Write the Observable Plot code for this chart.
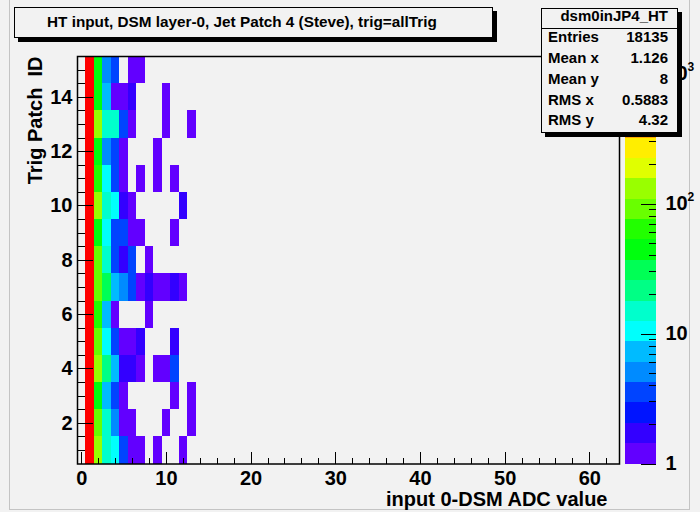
<!DOCTYPE html>
<html><head><meta charset="utf-8">
<script src="https://cdn.jsdelivr.net/npm/d3@7"></script>
<script src="https://cdn.jsdelivr.net/npm/@observablehq/plot@0.6"></script>
<style>
html,body{margin:0;padding:0;background:#f2f2f2;}
#wrap{position:relative;width:700px;height:512px;background:#f2f2f2;overflow:hidden;
  font-family:"Liberation Sans",Arial,Helvetica,sans-serif;font-weight:bold;color:#000;}
#wrap svg{position:absolute;left:0;top:0;}
.box{position:absolute;box-sizing:border-box;border:1.5px solid #000;background:#f2f2f2;box-shadow:4px 4px 0 #000;}
.t{position:absolute;white-space:pre;line-height:20px;height:20px;}
</style></head>
<body><div id="wrap"></div>
<script>
// ---------------- data ----------------
const adcBins  = [1, 2, 3, 4, 5, 6, 7, 8, 9, 10, 11, 12, 13];
const patchIds = [1, 2, 3, 4, 5, 6, 7, 8, 9, 10, 11, 12, 13, 14, 15];
// counts per trigger patch, one value per ADC bin above (0 = empty)
const patch1  = [1098, 130, 15, 10, 3, 1, 1, 0, 1, 0, 0, 1, 0];
const patch2  = [1112,  90, 15,  5, 1, 1, 0, 0, 0, 1, 0, 0, 1];
const patch3  = [1105,  45,  7,  3, 1, 0, 0, 0, 0, 0, 1, 0, 1];
const patch4  = [1087, 130, 21,  7, 2, 2, 1, 0, 1, 1, 4, 0, 0];
const patch5  = [1110,  90, 10,  3, 1, 1, 2, 0, 0, 0, 2, 0, 0];
const patch6  = [1121,  62,  7,  1, 0, 0, 0, 1, 0, 0, 0, 0, 0];
const patch7  = [1096,  90, 30,  7, 5, 3, 1, 2, 1, 1, 2, 1, 0];
const patch8  = [1103,  90, 15,  3, 2, 3, 0, 1, 0, 0, 0, 0, 0];
const patch9  = [1115,  45, 10,  3, 3, 1, 1, 0, 0, 0, 1, 0, 0];
const patch10 = [1092, 130, 15, 10, 2, 1, 0, 0, 0, 0, 0, 2, 0];
const patch11 = [1108,  62, 10,  3, 1, 0, 1, 0, 1, 0, 1, 0, 0];
const patch12 = [1099,  45,  5,  3, 1, 0, 0, 0, 1, 0, 0, 0, 0];
const patch13 = [1117, 130, 15, 15, 3, 1, 0, 0, 0, 1, 0, 0, 1];
const patch14 = [1094,  45,  7,  1, 1, 2, 0, 0, 0, 1, 0, 0, 0];
const patch15 = [1102,  45,  5,  3, 0, 1, 1, 0, 0, 0, 0, 0, 0];
const patchRows = [patch1, patch2, patch3, patch4, patch5, patch6, patch7, patch8,
                   patch9, patch10, patch11, patch12, patch13, patch14, patch15];

const xTickValues = [0, 10, 20, 30, 40, 50, 60];
const yTickValues = [2, 4, 6, 8, 10, 12, 14];
const zTickValues = [1, 10, 100, 1000];
const zTickLabels = ["1", "10", "10", "10"];
const zTickExponents = ["", "", "2", "3"];

const titleText = "HT input, DSM layer-0, Jet Patch 4 (Steve), trig=allTrig";
const xTitle = "input 0-DSM ADC value";
const yTitle = "Trig Patch\u00a0\u00a0ID";
const statsName = "dsm0inJP4_HT";
const statLabels = ["Entries", "Mean x", "Mean y", "RMS x", "RMS y"];
const statValues = ["18135", "1.126", "8", "0.5883", "4.32"];

// ROOT "pretty" palette, 20 contour levels
const palette = ["#6200ff","#3300ff","#0014ff","#0044ff","#008bff","#00bbff","#00fffc","#00ffcc",
  "#00ff85","#00ff55","#00ff0e","#22ff00","#69ff00","#99ff00","#e0ff00","#ffee00",
  "#ffa700","#ff7700","#ff3000","#ff0000"];
const zMax = 1364;

// ---------------- build ----------------
const FONT = '"Liberation Sans", Arial, Helvetica, sans-serif';
const W = 700, H = 512, mL = 77, mR = 81, mT = 56, mB = 48.5;
const frameW = W - mL - mR, frameH = H - mT - mB;
const nLev = palette.length;
const thresholds = d3.range(1, nLev).map(k => Math.pow(zMax, k / nLev));
const colorScale = {type: "threshold", domain: thresholds, range: palette};

const cells = [];
patchRows.forEach((row, i) => row.forEach((c, j) => {
  if (c > 0) cells.push({patch: patchIds[i], adc: adcBins[j], count: c});
}));

const xMinor = d3.range(0, 64, 2).filter(v => !xTickValues.includes(v));
const yMinor = d3.range(1, 15.5, 0.5).filter(v => !yTickValues.includes(v));
const zMinor = [];
for (const dec of [1, 10, 100]) for (let m = 2; m <= 9; m++) if (m * dec < zMax) zMinor.push(m * dec);

const txt = {fontSize: 20, fontWeight: "bold", fontFamily: FONT, fill: "#000"};

const main = Plot.plot({
  width: W, height: H, marginLeft: mL, marginRight: mR, marginTop: mT, marginBottom: mB,
  style: {background: "transparent", overflow: "visible", fontFamily: FONT},
  x: {domain: [-0.5, 63.5], axis: null},
  y: {domain: [0.5, 15.5], axis: null},
  color: colorScale,
  marks: [
    Plot.rect(cells, {x1: d => d.adc - 0.5, x2: d => d.adc + 0.5,
                      y1: d => d.patch - 0.5, y2: d => d.patch + 0.5,
                      fill: "count", shapeRendering: "crispEdges"}),
    Plot.ruleX(xMinor, {x: d => d, insetTop: frameH - 6, stroke: "#000", shapeRendering: "crispEdges"}),
    Plot.ruleX(xTickValues, {x: d => d, insetTop: frameH - 12, stroke: "#000", shapeRendering: "crispEdges"}),
    Plot.ruleY(yMinor, {y: d => d, insetRight: frameW - 8, stroke: "#000", shapeRendering: "crispEdges"}),
    Plot.ruleY(yTickValues, {y: d => d, insetRight: frameW - 16, stroke: "#000", shapeRendering: "crispEdges"}),
    Plot.frame({stroke: "#000", strokeWidth: 1.5}),
    Plot.text(xTickValues, {x: d => d, frameAnchor: "bottom", dy: 14.5, lineAnchor: "middle",
                            text: d => String(d), ...txt}),
    Plot.text(yTickValues, {y: d => d, frameAnchor: "left", dx: -5, textAnchor: "end",
                            text: d => String(d), ...txt}),
    Plot.text([xTitle], {frameAnchor: "bottom-right", dx: -12, dy: 36, textAnchor: "end",
                         lineAnchor: "middle", text: d => d, ...txt}),
    Plot.text([yTitle], {frameAnchor: "top-left", dx: -42, dy: 0, rotate: -90, textAnchor: "end",
                         lineAnchor: "middle", text: d => d, ...txt})
  ]
});

const bands = d3.range(nLev).map(k => {
  const lo = k === 0 ? 1 : thresholds[k - 1];
  const hi = k === nLev - 1 ? zMax : thresholds[k];
  return {lo, hi, mid: Math.sqrt(lo * hi)};
});
const barL = 625, barR = 656, barW = barR - barL;
const bar = Plot.plot({
  width: W, height: H, marginLeft: barL, marginRight: W - barR, marginTop: mT, marginBottom: mB,
  style: {background: "transparent", overflow: "visible", fontFamily: FONT},
  x: {domain: [0, 1], axis: null},
  y: {type: "log", domain: [1, zMax], axis: null},
  color: colorScale,
  marks: [
    Plot.rect(bands, {x1: 0, x2: 1, y1: "lo", y2: "hi", fill: "mid", shapeRendering: "crispEdges"}),
    Plot.ruleY(zMinor, {y: d => d, insetLeft: barW - 7, stroke: "#000", shapeRendering: "crispEdges"}),
    Plot.ruleY(zTickValues, {y: d => d, insetLeft: barW - 15, stroke: "#000", shapeRendering: "crispEdges"}),
    Plot.text(zTickValues, {y: d => d, frameAnchor: "right", dx: 9, textAnchor: "start",
                            text: (d, i) => zTickLabels[i], ...txt}),
    Plot.text(zTickValues, {y: d => d, frameAnchor: "right", dx: 31, dy: -7, textAnchor: "start",
                            text: (d, i) => zTickExponents[i], ...txt, fontSize: 12})
  ]
});

const wrap = document.getElementById("wrap");
// pad bevel lines
const pad = document.createElement("div");
Object.assign(pad.style, {position: "absolute", left: "9px", top: "-2px", width: "681px", height: "512px",
  boxSizing: "border-box", borderLeft: "1px solid #c4c4c4", borderRight: "1px solid #c4c4c4",
  borderBottom: "1px solid #c4c4c4"});
wrap.appendChild(pad);
wrap.appendChild(main);
wrap.appendChild(bar);

function addDiv(cls, styles, text) {
  const el = document.createElement("div");
  el.className = cls;
  Object.assign(el.style, styles);
  if (text != null) el.textContent = text;
  wrap.appendChild(el);
  return el;
}
// title box
addDiv("box", {left: "14px", top: "7px", width: "479px", height: "31px"});
addDiv("t", {left: "47px", top: "12px", fontSize: "15.3px"}, titleText);

// stats box
addDiv("box", {left: "541px", top: "8px", width: "137px", height: "125px"});
addDiv("", {position: "absolute", left: "541px", top: "27.5px", width: "137px", height: "1.5px", background: "#000"});
addDiv("t", {left: "541px", width: "127px", top: "6px", fontSize: "15px", textAlign: "right"}, statsName);
const rowY = [37, 57.5, 78.5, 99.5, 120];
statLabels.forEach((lab, i) => {
  addDiv("t", {left: "548px", top: (rowY[i] - 10) + "px", fontSize: "15px"}, lab);
  addDiv("t", {left: "541px", width: "127px", top: (rowY[i] - 10) + "px", fontSize: "15px", textAlign: "right"}, statValues[i]);
});
</script>
</body></html>
